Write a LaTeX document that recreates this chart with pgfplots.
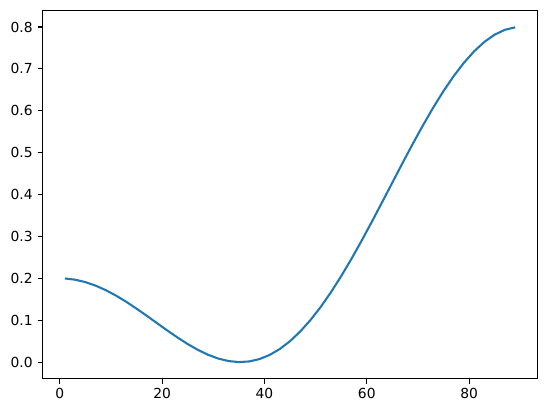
\documentclass[border=0pt]{standalone}
\usepackage{fontspec}
\setmainfont{DejaVu Sans}
\usepackage{pgfplots}
\pgfplotsset{compat=1.18}
\definecolor{mplblue}{HTML}{1F77B4}

\begin{document}
\begin{tikzpicture}
\path[use as bounding box, fill=white] (-30.5bp,-24.7bp) rectangle (363.1bp,272.6bp);
\begin{axis}[
  at={(0,0)}, anchor=south west,
  scale only axis,
  width=356.4bp, height=265.2bp,
  xmin=-3.4, xmax=93.4,
  ymin=-0.04, ymax=0.84,
  xtick={0,20,40,60,80},
  ytick={0,0.1,0.2,0.3,0.4,0.5,0.6,0.7,0.8},
  tick pos=left,
  tick align=outside,
  major tick length=3.5pt,
  every tick/.style={black, line width=0.8pt},
  axis line style={line width=0.8pt},
  /pgf/number format/assume math mode=true,
  ticklabel style={font=\fontsize{10}{12}\selectfont},
  yticklabel style={/pgf/number format/fixed, /pgf/number format/precision=1, /pgf/number format/fixed zerofill},
  scaled y ticks=false,
]
\addplot[color=mplblue, line width=1.5pt] coordinates {
(1,0.19963)(3,0.19672)(5,0.19099)(7,0.18257)(9,0.17171)(11,0.15870)
(13,0.14388)(15,0.12769)(17,0.11058)(19,0.09303)(21,0.07558)(23,0.05875)
(25,0.04309)(27,0.02913)(29,0.01739)(31,0.00834)(33,0.00243)(35,0.00003)
(37,0.00150)(39,0.00708)(41,0.01697)(43,0.03126)(45,0.05000)(47,0.07312)
(49,0.10047)(51,0.13182)(53,0.16688)(55,0.20525)(57,0.24647)(59,0.29002)
(61,0.33535)(63,0.38181)(65,0.42877)(67,0.47555)(69,0.52146)(71,0.56583)
(73,0.60800)(75,0.64731)(77,0.68316)(79,0.71500)(81,0.74235)(83,0.76475)
(85,0.78187)(87,0.79344)(89,0.79927)
};
\end{axis}
\end{tikzpicture}
\end{document}
